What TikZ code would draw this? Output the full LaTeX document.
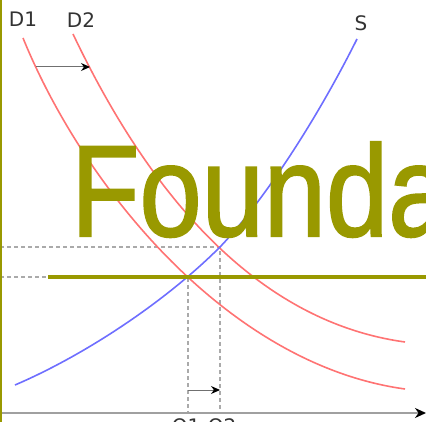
\documentclass[tikz,border=0pt]{standalone}
\usepackage{fontspec}
\setmainfont{DejaVu Sans}
\newfontfamily\markfont[FakeBold=1.6]{Liberation Sans}
\usetikzlibrary{arrows.meta}
\definecolor{demandred}{HTML}{FF7373}
\definecolor{supplyblue}{HTML}{6E6EFF}
\definecolor{guidegray}{HTML}{AAAAAA}
\definecolor{axisgray}{HTML}{A0A0A0}
\definecolor{labelgray}{HTML}{333333}
\definecolor{markolive}{HTML}{999900}

\begin{document}
\begin{tikzpicture}[x=1pt, y=-1pt, line width=0.5pt,
    every node/.style={font=\fontsize{20}{24}\selectfont, text=labelgray, inner sep=0pt},
    demand/.style={demandred, line width=1.6pt},
    supply/.style={supplyblue, line width=1.6pt},
    guide/.style={guidegray, line width=1.2pt, dash pattern=on 4pt off 3pt},
    shiftarrow/.style={draw=axisgray!70!black, line width=1pt, -{Stealth[length=9pt, width=8pt, color=black]}}]
  \useasboundingbox (0,0) rectangle (426,422);
  \coordinate (E1) at (188,277);
  \coordinate (E2) at (220,247);
  \draw[guide] (0,247) -- (E2) -- (220,413);
  \draw[guide] (0,277) -- (E1) -- (188,413);
  \draw[axisgray, line width=2.5pt, -{Stealth[length=11pt, width=10pt, color=black]}] (0,413) -- (426,413);
  \draw[demand] (23,38) .. controls (85,190) and (230,365) .. (405,389);
  \draw[demand] (73,34) .. controls (140,175) and (245,320) .. (405,342);
  \draw[supply] (15,385) .. controls (85,355) and (165,302) .. (E2)
    .. controls (262,203) and (315,123) .. (357,39);
  \node (d1) at (23,19) {D1};
  \node (d2) at (81,20) {D2};
  \node (s) at (361,23) {S};
  \node[anchor=base] (q1) at (186,433) {Q1};
  \node[anchor=base] (q2) at (222,433) {Q2};
  \coordinate (a1) at (36,67);
  \coordinate (a2) at (90,67);
  \coordinate (b1) at (188,390);
  \coordinate (b2) at (220,390);
  \draw[shiftarrow] (a1) -- (a2);
  \draw[shiftarrow] (b1) -- (b2);
  % overlay
  \draw[markolive, line width=4pt] (48,277) -- (426,277);
  \draw[markolive, line width=2.5pt] (1,0) -- (1,422);
  \node[anchor=base west, text=markolive, xscale=0.86, font=\markfont\fontsize{130}{140}\selectfont] (mark) at (71,236) {Foundation};
\end{tikzpicture}
\end{document}
